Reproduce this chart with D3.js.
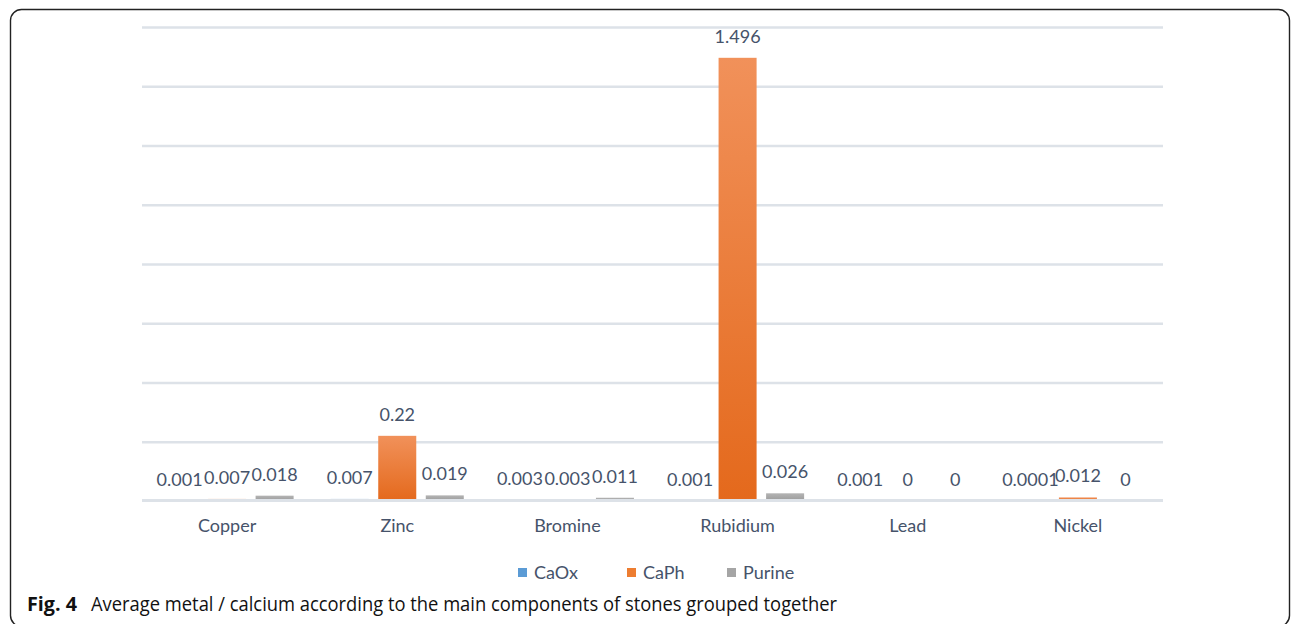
<!DOCTYPE html>
<html>
<head>
<meta charset="utf-8">
<script src="https://cdn.jsdelivr.net/npm/d3@7"></script>
<style>
  html, body { margin: 0; padding: 0; background: #fff; }
  svg { display: block; }
</style>
</head>
<body>
<svg id="chart" width="1295" height="624"></svg>
<script>
// Elements measured
const categories = ["Copper", "Zinc", "Bromine", "Rubidium", "Lead", "Nickel"];
const seriesNames = ["CaOx", "CaPh", "Purine"];
// Average metal / calcium per stone type
const caOx   = [0.001, 0.007, 0.003, 0.001, 0.001, 0.0001];
const caPh   = [0.007, 0.22, 0.003, 1.496, 0, 0.012];
const purine = [0.018, 0.019, 0.011, 0.026, 0, 0];
// Label texts as printed above each bar
const caOxLabels   = ["0.001", "0.007", "0.003", "0.001", "0.001", "0.0001"];
const caPhLabels   = ["0.007", "0.22", "0.003", "1.496", "0", "0.012"];
const purineLabels = ["0.018", "0.019", "0.011", "0.026", "0", "0"];
const yTicks = [0, 0.2, 0.4, 0.6, 0.8, 1, 1.2, 1.4, 1.6];

const seriesValues = [caOx, caPh, purine];
const seriesLabels = [caOxLabels, caPhLabels, purineLabels];
const colors = { CaOx: "#5b9bd5", CaPh: "#ed7d31", Purine: "#a5a5a5" };
const gradTop = { CaOx: "#7db0e0", CaPh: "#f1915a", Purine: "#b4b4b4" };
const gradBot = { CaOx: "#4a8bcb", CaPh: "#e4691c", Purine: "#9a9a9a" };

const svg = d3.select("#chart");
const textColor = "#46536a";
const labelFont = "Lato, 'Open Sans', sans-serif";
const labelSize = 18;

// Frame around the figure
svg.append("rect")
  .attr("x", 10.5).attr("y", 9.5)
  .attr("width", 1279).attr("height", 617)
  .attr("rx", 11).attr("ry", 11)
  .attr("fill", "none").attr("stroke", "#222").attr("stroke-width", 1.4);

const plot = { left: 142, right: 1163, top: 27, bottom: 501 };

const x0 = d3.scaleBand()
  .domain(categories)
  .range([plot.left, plot.right])
  .paddingInner(0.218)
  .paddingOuter(0.109);

const x1 = d3.scaleBand()
  .domain(seriesNames)
  .range([0, x0.bandwidth()])
  .paddingInner(0.2);

const y = d3.scaleLinear()
  .domain([0, 1.6])
  .range([plot.bottom, plot.top]);

// Gradients for bar fills
const defs = svg.append("defs");
seriesNames.forEach(s => {
  const g = defs.append("linearGradient")
    .attr("id", "grad-" + s)
    .attr("x1", 0).attr("y1", 0).attr("x2", 0).attr("y2", 1);
  g.append("stop").attr("offset", "0%").attr("stop-color", gradTop[s]);
  g.append("stop").attr("offset", "100%").attr("stop-color", gradBot[s]);
});

const gridColor = "#dde2e8";
const gridWidth = 2.5;

// Horizontal gridlines (above zero), behind the bars
const yAxis = d3.axisLeft(y).tickValues(yTicks.filter(t => t > 0))
  .tickSize(-(plot.right - plot.left)).tickFormat("");
const gy = svg.append("g")
  .attr("transform", `translate(${plot.left},0)`)
  .call(yAxis);
gy.select(".domain").remove();
gy.selectAll(".tick line")
  .attr("stroke", gridColor)
  .attr("stroke-width", gridWidth);

// Bars
const groups = svg.append("g").selectAll("g")
  .data(categories)
  .join("g")
  .attr("transform", d => `translate(${x0(d)},0)`);

groups.each(function(cat, ci) {
  const g = d3.select(this);
  seriesNames.forEach((s, si) => {
    const v = seriesValues[si][ci];
    g.append("rect")
      .attr("x", x1(s))
      .attr("y", y(v))
      .attr("width", x1.bandwidth())
      .attr("height", y(0) - y(v))
      .attr("fill", `url(#grad-${s})`);
    g.append("text")
      .attr("x", x1(s) + x1.bandwidth() / 2)
      .attr("y", y(v) - 15)
      .attr("text-anchor", "middle")
      .attr("font-family", labelFont)
      .attr("font-size", labelSize)
      .attr("fill", textColor)
      .text(seriesLabels[si][ci]);
  });
});

// Zero line drawn over the bar bases
svg.append("line")
  .attr("x1", plot.left).attr("x2", plot.right)
  .attr("y1", y(0) - 0.5).attr("y2", y(0) - 0.5)
  .attr("stroke", gridColor)
  .attr("stroke-width", 3);

// Category axis labels
const xAxis = d3.axisBottom(x0).tickSize(0).tickPadding(18);
const gx = svg.append("g")
  .attr("transform", `translate(0,${plot.bottom})`)
  .call(xAxis);
gx.select(".domain").remove();
gx.selectAll("text")
  .attr("font-family", labelFont)
  .attr("font-size", labelSize)
  .attr("fill", textColor);

// Legend
const legendX = [518, 627, 727];
const legend = svg.append("g");
seriesNames.forEach((s, i) => {
  legend.append("rect")
    .attr("x", legendX[i]).attr("y", 568)
    .attr("width", 9).attr("height", 9)
    .attr("fill", colors[s]);
  legend.append("text")
    .attr("x", legendX[i] + 16).attr("y", 579)
    .attr("font-family", labelFont)
    .attr("font-size", labelSize)
    .attr("fill", textColor)
    .text(s);
});

// Figure caption
const capFont = "'Open Sans', 'Noto Sans', sans-serif";
svg.append("text")
  .attr("x", 27).attr("y", 611)
  .attr("font-family", capFont)
  .attr("font-size", 19.5)
  .attr("font-weight", "bold")
  .attr("fill", "#111")
  .attr("textLength", 50)
  .attr("lengthAdjust", "spacingAndGlyphs")
  .text("Fig. 4");
svg.append("text")
  .attr("x", 91).attr("y", 611)
  .attr("font-family", capFont)
  .attr("font-size", 19.5)
  .attr("fill", "#111")
  .attr("textLength", 746)
  .attr("lengthAdjust", "spacingAndGlyphs")
  .text("Average metal / calcium according to the main components of stones grouped together");
</script>
</body>
</html>
